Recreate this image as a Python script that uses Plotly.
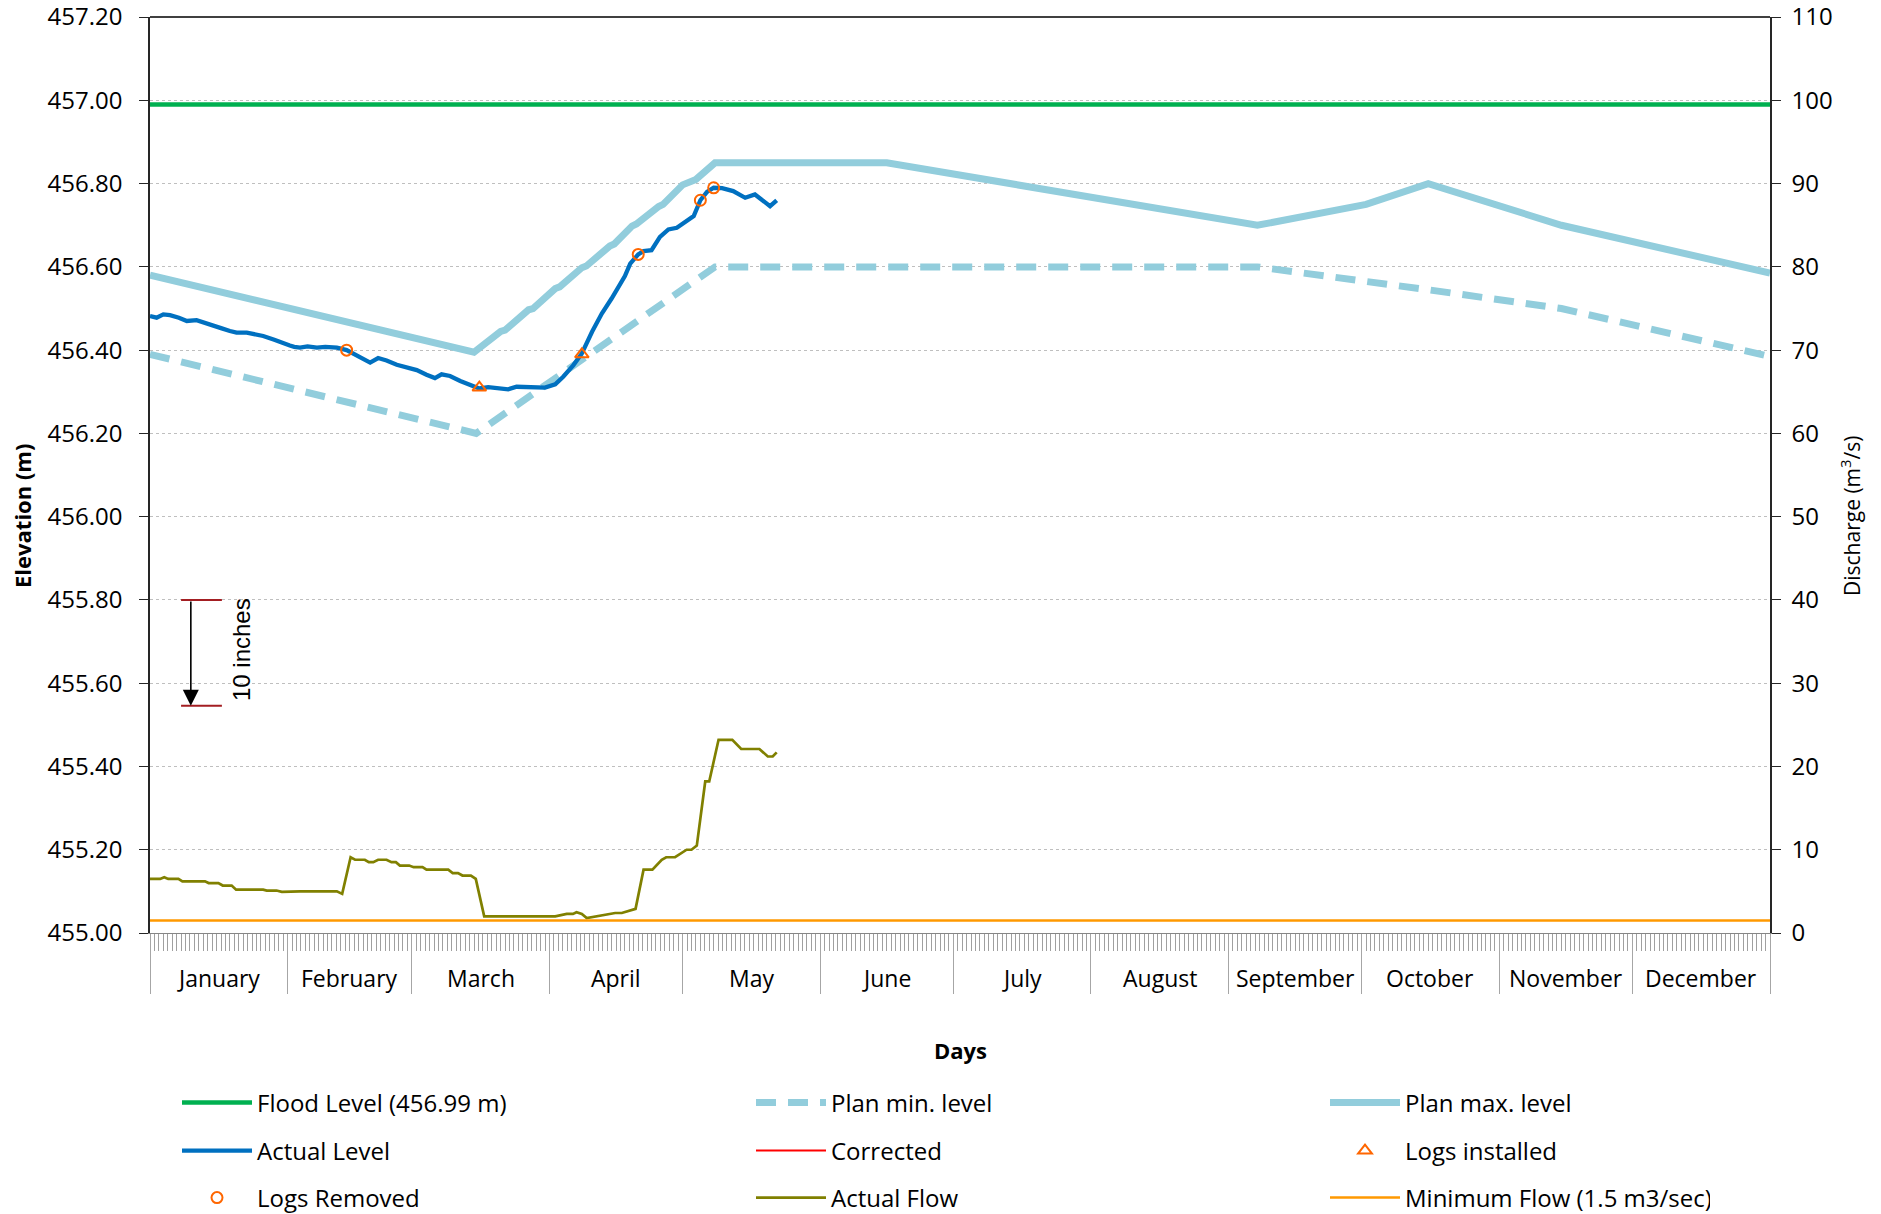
import plotly.graph_objects as go

# ---- calendar (x axis is day of year, 0 = 1 January) ----
month_names = ["January", "February", "March", "April", "May", "June",
               "July", "August", "September", "October", "November", "December"]
month_starts = [0, 31, 59, 90, 120, 151, 181, 212, 243, 273, 304, 334, 365]

# ---- elevation series (m) ----
flood_days = [0, 365]
flood_level = [456.99, 456.99]

plan_max_days = [0, 73, 79, 80, 85.3, 86.3, 91.3, 92.3, 97.3, 98.3, 103.6, 104.6,
                 108.6, 109.6, 114.6, 115.6, 120, 121, 123, 127.3, 166, 249.5,
                 274, 288, 318, 365]
plan_max_level = [456.58, 456.395, 456.445, 456.448, 456.497, 456.50, 456.548, 456.552,
                  456.598, 456.602, 456.65, 456.655, 456.698, 456.703, 456.745, 456.75,
                  456.797, 456.802, 456.81, 456.85, 456.85, 456.70,
                  456.75, 456.80, 456.70, 456.585]

plan_min_days = [0, 73.5, 127.3, 249.5, 288, 318, 365]
plan_min_level = [456.39, 456.20, 456.60, 456.60, 456.545, 456.50, 456.385]

actual_days = [0, 1.5, 3, 4.5, 6.5, 8.3, 10.5, 12.5, 14.3, 16, 18, 19.5, 21.8, 23.5,
               25.5, 28, 30, 31.5, 32.5, 33.8, 35.5, 37.6, 39.5, 42.1, 44.3, 46.6,
               48.5, 49.6, 51.4, 53.3, 55.6, 57.8, 60.1, 62.3, 64.2, 65.7, 67.6, 69.9,
               72.1, 74.2, 76.2, 78.9, 80.7, 82.6, 86.4, 89, 91.3, 93.1, 95.4, 97.3,
               99.6, 101.8, 104, 105.9, 107, 108.2, 110, 111.2, 113, 114.9, 116.8,
               118.7, 120.7, 122.5, 124, 125.5, 127, 128.9, 131.4, 134.1, 136.3,
               137.8, 139.7, 141.2]
actual_level = [456.482, 456.478, 456.486, 456.484, 456.478, 456.470, 456.472, 456.466,
                456.460, 456.453, 456.446, 456.442, 456.442, 456.438, 456.434, 456.425,
                456.416, 456.411, 456.408, 456.406, 456.409, 456.406, 456.408, 456.406,
                456.400, 456.386, 456.376, 456.370, 456.381, 456.375, 456.365, 456.359,
                456.352, 456.341, 456.333, 456.342, 456.338, 456.326, 456.316, 456.308,
                456.311, 456.309, 456.306, 456.312, 456.310, 456.310, 456.318, 456.336,
                456.364, 456.392, 456.444, 456.488, 456.524, 456.556, 456.578, 456.608,
                456.630, 456.638, 456.640, 456.672, 456.690, 456.694, 456.710, 456.722,
                456.760, 456.780, 456.790, 456.789, 456.782, 456.766, 456.774, 456.762,
                456.746, 456.760]

logs_installed_days = [74.2, 97.3]
logs_installed_level = [456.31, 456.39]
logs_removed_days = [44.3, 110.0, 124.0, 127.0]
logs_removed_level = [456.40, 456.63, 456.76, 456.79]

# ---- discharge series (m3/s) ----
flow_days = [0, 2.3, 3.2, 4.1, 6.4, 7.3, 12.4, 13.2, 15.4, 16.4, 18.4, 19.4, 25.5, 26.3,
             28.5, 29.7, 33.8, 42.1, 43.3, 45.2, 46.2, 48.4, 49.3, 50.3, 51.4, 53.3,
             54.4, 55.4, 56.3, 58.4, 59.4, 61.4, 62.3, 67.2, 68.2, 69.4, 70.4, 72.3,
             73.4, 75.3, 91.3, 93.9, 95.3, 96.1, 97.3, 98.4, 104.8, 106.3, 109.4,
             111.2, 113.2, 115.3, 116.3, 118.3, 120.9, 122.0, 123.2, 125.1, 126.0,
             126.9, 128.1, 131.2, 133.2, 137.3, 139.2, 140.3, 141.2]
flow_cms = [6.5, 6.5, 6.7, 6.5, 6.5, 6.2, 6.2, 6.0, 6.0, 5.7, 5.7, 5.2, 5.2, 5.1,
            5.1, 4.95, 5.0, 5.0, 4.7, 9.1, 8.8, 8.8, 8.5, 8.5, 8.8, 8.8,
            8.5, 8.5, 8.1, 8.1, 7.9, 7.9, 7.6, 7.6, 7.2, 7.2, 6.9, 6.9,
            6.5, 2.0, 2.0, 2.3, 2.3, 2.5, 2.3, 1.8, 2.4, 2.4, 2.9,
            7.6, 7.6, 8.8, 9.1, 9.1, 10.0, 10.0, 10.5, 18.2, 18.2,
            20.2, 23.2, 23.2, 22.1, 22.1, 21.2, 21.2, 21.7]
min_flow_days = [0, 365]
min_flow_cms = [1.5, 1.5]

# ---- "10 inches" scale bar ----
inch_top = 455.80
inch_span = 0.254
inch_bottom = inch_top - inch_span

# ---- axis ranges (a hair past the top so the end ticks get labels) ----
ELEV_RANGE = [455.0, 457.2002]
FLOW_RANGE = [0.0, 110.01]

# ---- geometry of the figure (px) ----
W, H = 1881, 1214
PLOT_L, PLOT_R, PLOT_T, PLOT_B = 150, 1770, 17, 933
plot_h = PLOT_B - PLOT_T
plot_w = PLOT_R - PLOT_L


def py(px_y):
    """paper y for a pixel row of the figure"""
    return (PLOT_B - px_y) / plot_h


def px(px_x):
    """paper x for a pixel column of the figure"""
    return (px_x - PLOT_L) / plot_w


FONT = "Open Sans"
PLAN_BLUE = "#92CDDC"
LAST_COL_W = 300   # narrower last column keeps each legend row on one line

fig = go.Figure()

fig.add_trace(go.Scatter(x=flood_days, y=flood_level, mode="lines",
                         name="Flood Level (456.99 m)",
                         line=dict(color="#00B050", width=4.5), legend="legend"))
fig.add_trace(go.Scatter(x=plan_min_days, y=plan_min_level, mode="lines",
                         name="Plan min. level",
                         line=dict(color=PLAN_BLUE, width=7, dash="20px,12px"),
                         legend="legend"))
fig.add_trace(go.Scatter(x=plan_max_days, y=plan_max_level, mode="lines",
                         name="Plan max. level",
                         line=dict(color=PLAN_BLUE, width=7), legend="legend",
                         legendwidth=LAST_COL_W))
fig.add_trace(go.Scatter(x=actual_days, y=actual_level, mode="lines",
                         name="Actual Level",
                         line=dict(color="#0070C0", width=4.3), legend="legend2"))
fig.add_trace(go.Scatter(x=[None], y=[None], mode="lines", name="Corrected",
                         line=dict(color="#FF0000", width=2), legend="legend2"))
fig.add_trace(go.Scatter(x=logs_installed_days, y=logs_installed_level, mode="markers",
                         name="Logs installed",
                         marker=dict(symbol="triangle-up-open", size=12,
                                     color="#FF6600", line=dict(width=2)),
                         legend="legend2", legendwidth=LAST_COL_W))
fig.add_trace(go.Scatter(x=logs_removed_days, y=logs_removed_level, mode="markers",
                         name="Logs Removed",
                         marker=dict(symbol="circle-open", size=11,
                                     color="#FF6600", line=dict(width=2)),
                         legend="legend3"))
fig.add_trace(go.Scatter(x=flow_days, y=flow_cms, mode="lines", name="Actual Flow",
                         line=dict(color="#808000", width=2.7), yaxis="y2",
                         legend="legend3"))
fig.add_trace(go.Scatter(x=min_flow_days, y=min_flow_cms, mode="lines",
                         name="Minimum Flow (1.5 m3/sec)",
                         line=dict(color="#FF9900", width=2.5), yaxis="y2",
                         legend="legend3", legendwidth=LAST_COL_W))

# ---- annotations: month names, axis titles, scale bar ----
annotations = []
for i, name in enumerate(month_names):
    annotations.append(dict(x=(month_starts[i] + month_starts[i + 1]) / 2, xref="x",
                            y=py(978), yref="paper", text=name, showarrow=False,
                            font=dict(family=FONT, size=23, color="black"),
                            xanchor="center", yanchor="middle"))
annotations.append(dict(x=0.5, xref="paper", y=py(1050), yref="paper", text="<b>Days</b>",
                        showarrow=False, xanchor="center", yanchor="middle",
                        font=dict(family=FONT, size=22, color="black")))
annotations.append(dict(x=px(22), xref="paper", y=py(516), yref="paper",
                        text="<b>Elevation (m)</b>", textangle=-90, showarrow=False,
                        xanchor="center", yanchor="middle",
                        font=dict(family=FONT, size=22, color="black")))
annotations.append(dict(x=px(1850), xref="paper", y=py(516), yref="paper",
                        text="Discharge (m<sup>3</sup>/s)", textangle=-90, showarrow=False,
                        xanchor="center", yanchor="middle",
                        font=dict(family=FONT, size=21, color="black")))
annotations.append(dict(x=9.2, y=inch_bottom, xref="x", yref="y",
                        ax=9.2, ay=inch_top, axref="x", ayref="y", text="",
                        showarrow=True, arrowhead=2, arrowsize=2, arrowwidth=1.6,
                        arrowcolor="black"))
annotations.append(dict(x=20.5, y=455.682, xref="x", yref="y", text="10 inches",
                        textangle=-90, showarrow=False, xanchor="center", yanchor="middle",
                        font=dict(family="Liberation Sans", size=24, color="black")))

shapes = [
    # top border of the plot area
    dict(type="line", xref="paper", yref="paper", x0=0, x1=1, y0=1, y1=1,
         line=dict(color="black", width=1.5)),
    # scale bar end caps
    dict(type="line", xref="x", yref="y", x0=7.0, x1=16.2, y0=inch_top, y1=inch_top,
         line=dict(color="#A31E22", width=2)),
    dict(type="line", xref="x", yref="y", x0=7.0, x1=16.2, y0=inch_bottom, y1=inch_bottom,
         line=dict(color="#A31E22", width=2)),
]

legend_common = dict(orientation="h", xanchor="left", yanchor="middle",
                     x=px(177), itemwidth=70, entrywidth=489,
                     font=dict(family=FONT, size=24, color="black"),
                     bgcolor="rgba(0,0,0,0)", borderwidth=0)

fig.update_layout(
    width=W, height=H,
    margin=dict(l=PLOT_L, r=W - PLOT_R, t=PLOT_T, b=H - PLOT_B, pad=0, autoexpand=False),
    paper_bgcolor="white", plot_bgcolor="white",
    font=dict(family=FONT, size=22, color="black"),
    showlegend=True,
    legend=dict(legend_common, y=py(1103)),
    legend2=dict(legend_common, y=py(1151)),
    legend3=dict(legend_common, y=py(1198)),
    xaxis=dict(range=[0, 365], showgrid=False, zeroline=False,
               showline=True, linecolor="#868686", linewidth=1.3,
               tickmode="array", tickvals=month_starts, ticks="outside", ticklen=60,
               tickcolor="#A6A6A6", tickwidth=1.3, showticklabels=False,
               minor=dict(tickmode="linear", tick0=0, dtick=1, ticks="outside",
                          ticklen=17, tickcolor="#A0A0A0", tickwidth=1)),
    yaxis=dict(range=ELEV_RANGE, tick0=455, dtick=0.2, tickformat=".2f",
               showline=True, linecolor="#262626", linewidth=1.5,
               ticks="outside", ticklen=9, tickcolor="#262626", tickwidth=1.3,
               showgrid=True, gridcolor="#BFBFBF", griddash="dot", gridwidth=1,
               zeroline=False, ticklabelstandoff=12, ticklabeloverflow="allow",
               tickfont=dict(family=FONT, size=24, color="black")),
    yaxis2=dict(range=FLOW_RANGE, tick0=0, dtick=10, overlaying="y", side="right",
                showline=True, linecolor="#262626", linewidth=1.5,
                ticks="outside", ticklen=9, tickcolor="#262626", tickwidth=1.3,
                showgrid=False, zeroline=False, ticklabelstandoff=6,
                ticklabeloverflow="allow",
                tickfont=dict(family=FONT, size=24, color="black")),
    annotations=annotations,
    shapes=shapes,
)

fig.write_html("out.html")
